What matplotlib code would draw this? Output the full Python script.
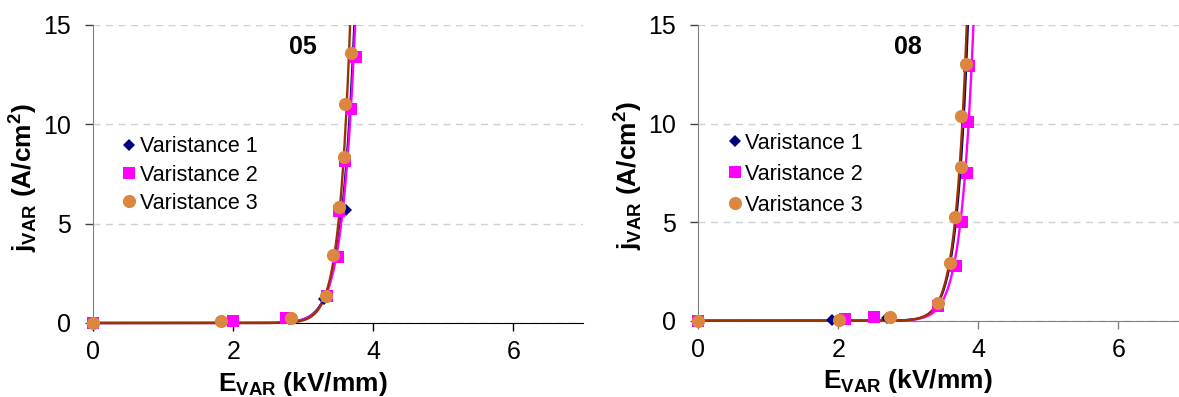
import numpy as np
import matplotlib
matplotlib.use("Agg")
import matplotlib.pyplot as plt
from matplotlib.patches import Rectangle

plt.rcParams['font.family'] = ['Liberation Sans', 'DejaVu Sans']
plt.rcParams['mathtext.fontset'] = 'custom'
plt.rcParams['mathtext.rm'] = 'Liberation Sans'
plt.rcParams['mathtext.bf'] = 'Liberation Sans:bold'

# ---------------- data ----------------
series_labels = ["Varistance 1", "Varistance 2", "Varistance 3"]
panel_titles = ["05", "08"]

# Panel 05
e05_v1 = [0, 1.95, 2.80, 3.30, 3.44, 3.61, 3.60, 3.66, 3.70]
j05_v1 = [0, 0.10, 0.22, 1.20, 3.40, 5.69, 8.20, 10.90, 13.50]
e05_v2 = [0, 2.00, 2.76, 3.34, 3.50, 3.51, 3.60, 3.68, 3.75]
j05_v2 = [0, 0.12, 0.24, 1.36, 3.34, 5.66, 8.16, 10.77, 13.40]
e05_v3 = [0, 1.83, 2.83, 3.33, 3.43, 3.51, 3.58, 3.60, 3.68]
j05_v3 = [0, 0.12, 0.24, 1.36, 3.43, 5.86, 8.35, 11.03, 13.60]

# Panel 08
e08_v1 = [0, 1.91, 2.70, 3.42, 3.60, 3.67, 3.76, 3.77, 3.84]
j08_v1 = [0, 0.05, 0.15, 0.85, 2.90, 5.20, 7.70, 10.30, 13.00]
e08_v2 = [0, 2.10, 2.51, 3.43, 3.68, 3.76, 3.84, 3.85, 3.86]
j08_v2 = [0, 0.07, 0.17, 0.75, 2.79, 5.03, 7.50, 10.10, 12.90]
e08_v3 = [0, 2.01, 2.74, 3.42, 3.59, 3.66, 3.75, 3.75, 3.83]
j08_v3 = [0, 0.03, 0.20, 0.88, 2.94, 5.28, 7.78, 10.40, 13.03]

x_ticks = [0, 2, 4, 6]
y_ticks = [0, 5, 10, 15]

marker_colors = ["#000080", "#FF00FF", "#DC873F"]
line_colors = ["#000080", "#FF00FF", "#993300"]
markers = ["D", "s", "o"]
msizes = [6.0, 8.3, 9.5]

panels = [
    dict(data=[(e05_v1, j05_v1), (e05_v2, j05_v2), (e05_v3, j05_v3)], title=panel_titles[0],
         rect=[93.3 / 1179, (397 - 323) / 397, 490 / 1179, 298 / 397],
         bottom_color="black", leg=(0.062, 0.626), legsp=0.33),
    dict(data=[(e08_v1, j08_v1), (e08_v2, j08_v2), (e08_v3, j08_v3)], title=panel_titles[1],
         rect=[698.3 / 1179, (397 - 320.7) / 397, 490 / 1179, 295.7 / 397],
         bottom_color="#808080", leg=(0.0635, 0.636), legsp=0.47),
]

fig = plt.figure(figsize=(11.79, 3.97), dpi=100)

for p in panels:
    ax = fig.add_axes(p["rect"])
    ax.set_xlim(0, 7)
    ax.set_ylim(0, 15)
    clip = Rectangle((0, -0.06), 1, 1.06, transform=ax.transAxes, fill=False, visible=False)
    ax.add_patch(clip)
    egrid = np.linspace(0, 7, 4000)
    # fitted power-law curves
    for (e, j), lc in zip(p["data"], line_colors):
        e = np.asarray(e, float); j = np.asarray(j, float)
        m = j > 0.5
        n, lna = np.polyfit(np.log(e[m]), np.log(j[m]), 1)
        curve = np.exp(lna) * egrid ** n
        ln, = ax.plot(egrid, curve, color=lc, lw=1.7, zorder=3)
        ln.set_clip_path(clip)
    handles = []
    for (e, j), mc, mk, ms, lab in zip(p["data"], marker_colors, markers, msizes, series_labels):
        h, = ax.plot(e, j, ls="none", marker=mk, ms=ms, color=mc, mec=mc, mew=0,
                     label=lab, zorder=4, clip_on=False)
        handles.append(h)
    ax.set_xticks(x_ticks)
    ax.set_yticks(y_ticks)
    ax.tick_params(axis="x", labelsize=18, length=5.5, width=1, pad=7.0,
                   colors=p["bottom_color"], labelcolor="black")
    ax.tick_params(axis="y", labelsize=18, length=6, width=1, pad=10.0,
                   colors="#404040", labelcolor="black")
    for s in ["top", "right"]:
        ax.spines[s].set_visible(False)
    ax.spines["left"].set_color("#7f7f7f")
    ax.spines["bottom"].set_color(p["bottom_color"])
    ax.spines["left"].set_zorder(2)
    ax.grid(axis="y", color="#d0d0d0", lw=1.0, linestyle=(0, (5, 4)), zorder=0)
    ax.set_axisbelow(True)
    ax.text(3.0, 13.9, p["title"], fontsize=18, fontweight="bold", ha="center", va="center")
    ax.set_xlabel(r"E$_{\mathbf{VAR}}$ (kV/mm)", fontsize=19, fontweight="bold")
    ax.xaxis.set_label_coords(3.0 / 7, -0.228)
    ax.xaxis.label.set_va("baseline")
    ax.set_ylabel(r"j$_{\mathbf{VAR}}$ (A/cm$^{\mathbf{2}}$)", fontsize=19, fontweight="bold")
    ax.yaxis.set_label_coords(-0.111, 0.49)
    leg = ax.legend(handles=handles, loc="upper left", bbox_to_anchor=p["leg"], frameon=False,
                    fontsize=15.5, handlelength=0.52, handletextpad=0.22, borderpad=0,
                    borderaxespad=0, labelspacing=p["legsp"], numpoints=1)

fig.savefig("out.png", dpi=100, facecolor="white")
